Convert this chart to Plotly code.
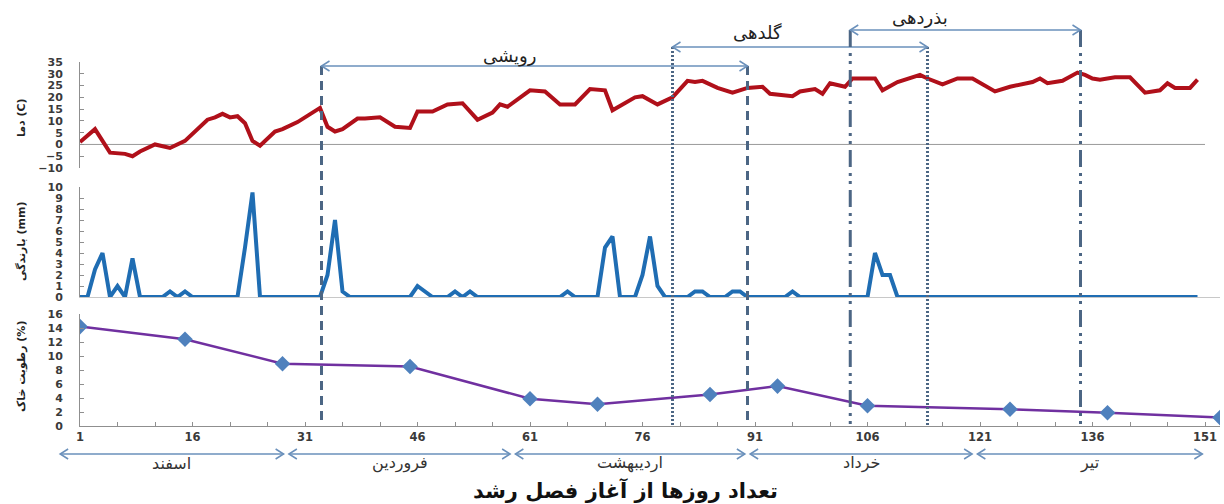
import plotly.graph_objects as go
from plotly.subplots import make_subplots

# ---- data -------------------------------------------------------------
# daily mean air temperature (°C): breakpoints of the daily series
temp_day = [1, 3, 5, 7, 8, 9, 11, 13, 15, 17, 18, 19, 20, 21, 22, 23, 24, 25, 27, 28,
            30, 33, 34, 35, 36, 38, 39, 41, 43, 45, 46, 48, 50, 52, 54, 56, 57, 58, 61, 63,
            65, 67, 69, 71, 72, 75, 76, 78, 80, 82, 83, 84, 86, 88, 90, 92, 93, 96, 97, 99,
            100, 101, 103, 104, 107, 108, 110, 113, 114, 116, 118, 120, 123, 125, 127, 128,
            129, 130, 132, 134, 135, 136, 137, 139, 141, 143, 145, 146, 147, 149, 150]
temp_c = [1, 6.5, -3.5, -4, -5, -3, 0, -1.5, 1.5, 7.5, 10.5, 11.5, 13, 11.5, 12, 9, 1.5, -0.5, 5.5, 6.5,
          9.5, 15.5, 7.5, 5.5, 6.5, 11, 11, 11.5, 7.5, 7, 14, 14, 17, 17.5, 10.5, 13.5, 17, 16, 23, 22.5,
          17, 17, 23.5, 23, 14.5, 20, 20.5, 17, 20, 27, 26.5, 27, 24, 22, 24, 24.5, 21.5, 20.5, 22.5, 23.5,
          21.5, 26, 24.5, 28, 28, 23, 26.5, 29.5, 28, 25.5, 28, 28, 22.5, 24.5, 26, 26.5,
          28, 26, 27, 30.5, 29.5, 28, 27.5, 28.5, 28.5, 22, 23, 26, 24, 24, 27.5]

# rainfall (mm): wet days only, every other day of the season is dry
season_days = 150
rain_day = [3, 4, 6, 8, 13, 15, 23, 24, 34, 35, 36, 46, 47, 51, 53, 66,
            71, 72, 76, 77, 78, 83, 84, 88, 89, 96, 107, 108, 109]
rain_mm = [2.5, 4, 1, 3.5, 0.5, 0.5, 4.5, 9.5, 2, 7, 0.5, 1, 0.5, 0.5, 0.5, 0.5,
           4.5, 5.5, 2, 5.5, 1, 0.5, 0.5, 0.5, 0.5, 0.5, 4, 2, 2]

# soil moisture samples (%)
soil_day = [1, 15, 28, 45, 61, 70, 85, 94, 106, 125, 138, 153]
soil_pct = [14.2, 12.4, 8.9, 8.5, 3.9, 3.1, 4.5, 5.7, 2.9, 2.4, 1.9, 1.2]

day_ticks = [1, 16, 31, 46, 61, 76, 91, 106, 121, 136, 151]

# Persian calendar months spanned by the season (day boundaries)
months = ["اسفند", "فروردین", "اردیبهشت", "خرداد", "تیر"]
month_edges = [-2, 28.5, 58.7, 90, 120.3, 151]

# growth stages: name, first day, last day
stage_names = ["رویشی", "گلدهی", "بذردهی"]
stage_start = [33.2, 80, 103.7]
stage_end = [90, 114, 134.4]

# ---- layout helpers ---------------------------------------------------
W, H = 1224, 504
ML, MR = 80, 4
X_RANGE = [1, 153]


def fx(px):
    return (px - ML) / (W - ML - MR)


def fy(py):
    return 1 - py / H


def dx(day):
    return (day - X_RANGE[0]) / (X_RANGE[1] - X_RANGE[0])


rain_series = [0.0] * season_days
for d, v in zip(rain_day, rain_mm):
    rain_series[d - 1] = v
rain_x = list(range(1, season_days + 1))

AX_COLOR = "#8f8f8f"
TICK_FONT = dict(family="DejaVu Sans", size=11, color="#3a3a3a", weight="bold")
ARROW_COLOR = "#6a90bb"
STAGE_COLOR = "#4c6684"

fig = make_subplots(rows=3, cols=1, shared_xaxes=False)

fig.add_trace(go.Scatter(x=temp_day, y=temp_c, mode="lines",
                         line=dict(color="#b0101a", width=4), showlegend=False), row=1, col=1)
fig.add_trace(go.Scatter(x=rain_x, y=rain_series, mode="lines",
                         line=dict(color="#1f6db3", width=4), showlegend=False), row=2, col=1)
fig.add_trace(go.Scatter(x=soil_day, y=soil_pct, mode="lines+markers",
                         line=dict(color="#7030a0", width=2.5),
                         marker=dict(symbol="diamond", size=12, color="#4f81bd"),
                         showlegend=False), row=3, col=1)

yaxis_common = dict(showgrid=False, zeroline=False, showline=True, linecolor=AX_COLOR,
                    linewidth=1, ticks="inside", ticklen=4, tickcolor=AX_COLOR,
                    tickfont=TICK_FONT, ticklabelstandoff=14, automargin=False)

fig.update_layout(
    width=W, height=H, template="none",
    margin=dict(l=ML, r=MR, t=0, b=0),
    paper_bgcolor="white", plot_bgcolor="rgba(0,0,0,0)",
    showlegend=False,
    xaxis=dict(domain=[0, 1], range=X_RANGE, visible=False),
    xaxis2=dict(domain=[0, 1], range=X_RANGE, showgrid=False, zeroline=False,
                showline=True, linecolor="#c8c8c8", showticklabels=False, ticks=""),
    xaxis3=dict(domain=[0, 1], range=X_RANGE, showgrid=False, zeroline=False,
                showline=True, linecolor=AX_COLOR, linewidth=1,
                tickmode="array", tickvals=day_ticks, ticks="inside", ticklen=4,
                tickcolor=AX_COLOR, tickfont=dict(TICK_FONT, size=11.5),
                minor=dict(tick0=1, dtick=5, ticks="inside", ticklen=4, tickcolor=AX_COLOR),
                automargin=False),
    yaxis=dict(yaxis_common, domain=[fy(168), fy(62)], range=[-10, 35], dtick=5),
    yaxis2=dict(yaxis_common, domain=[fy(297), fy(187)], range=[0, 10], dtick=1),
    yaxis3=dict(yaxis_common, domain=[fy(426), fy(314)], range=[0, 16], dtick=2),
)

shapes = []
# zero reference line of the temperature panel
shapes.append(dict(type="line", xref="x", yref="y", x0=1, x1=season_days + 1, y0=0, y1=0,
                   line=dict(color="#9a9a9a", width=1), layer="below"))


def double_arrow(d0, d1, y_px, width=1.5, head=8, half=5):
    out = [dict(type="line", xref="paper", yref="paper", x0=dx(d0), x1=dx(d1),
                y0=fy(y_px), y1=fy(y_px), line=dict(color=ARROW_COLOR, width=width))]
    out.append(dict(type="path", xref="paper", yref="paper", xsizemode="pixel",
                    ysizemode="pixel", xanchor=dx(d0), yanchor=fy(y_px),
                    path=f"M {head},{half} L 0,0 L {head},{-half}",
                    line=dict(color=ARROW_COLOR, width=width)))
    out.append(dict(type="path", xref="paper", yref="paper", xsizemode="pixel",
                    ysizemode="pixel", xanchor=dx(d1), yanchor=fy(y_px),
                    path=f"M {-head},{half} L 0,0 L {-head},{-half}",
                    line=dict(color=ARROW_COLOR, width=width)))
    return out


# growth-stage boundaries and spans
stage_dash = ["9px,6px", "2px,2px", "17px,6px,3px,5px,3px,6px"]
stage_top = [66, 47, 30]
stage_label_day = [58.3, 91.3, 113]
stage_label_y = [56, 33, 18]
for i in range(3):
    for d in (stage_start[i], stage_end[i]):
        shapes.append(dict(type="line", xref="paper", yref="paper",
                           x0=dx(d), x1=dx(d), y0=fy(stage_top[i]), y1=fy(426),
                           line=dict(color=STAGE_COLOR, width=3, dash=stage_dash[i])))
    shapes += double_arrow(stage_start[i], stage_end[i], stage_top[i])

# month spans below the day axis
for i in range(len(months)):
    shapes += double_arrow(month_edges[i] + 0.35, month_edges[i + 1] - 0.35, 454)

fig.update_layout(shapes=shapes)


def label(text, x, y, size, color, bold=False, angle=0):
    return dict(text=text, xref="paper", yref="paper", x=x, y=y,
                xanchor="center", yanchor="middle", textangle=angle, showarrow=False,
                font=dict(family="DejaVu Sans", size=size, color=color,
                          weight="bold" if bold else "normal"))


ann = []
for i in range(3):
    ann.append(label(stage_names[i], dx(stage_label_day[i]), fy(stage_label_y[i]), 18, "#222222"))
for i in range(len(months)):
    mid = (month_edges[i] + month_edges[i + 1]) / 2
    ann.append(label(months[i], dx(mid), fy(463), 16, "#333333"))

ann.append(label("تعداد روزها از آغاز فصل رشد", fx(625), fy(490), 21, "#111111", bold=True))

for text, y_px in [("دما (C)", 118), ("بارندگی (mm)", 242), ("رطوبت خاک (%)", 367)]:
    ann.append(label(text, fx(21), fy(y_px), 11, "#222222", bold=True, angle=-90))

fig.update_layout(annotations=ann)

fig.write_html("out.html")
